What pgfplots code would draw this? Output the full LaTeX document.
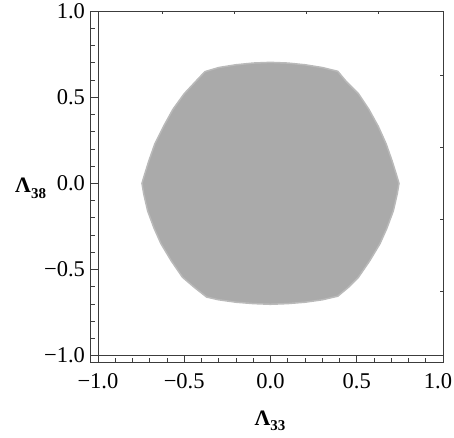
\documentclass[border=0pt]{standalone}
\usepackage{fontspec}
\setmainfont{Liberation Serif}
\usepackage{pgfplots}
\pgfplotsset{compat=1.18}
\definecolor{regionfill}{RGB}{170,170,170}
\definecolor{regionedge}{RGB}{186,186,186}
\definecolor{axisgray}{RGB}{60,60,60}

\newcommand{\lab}[1]{{\fontsize{22}{22}\selectfont\bfseries Λ\raisebox{-0.27em}{\fontsize{15}{15}\selectfont #1}}}

\begin{document}
\begin{tikzpicture}
  \useasboundingbox (-90.7pt,-74.3pt) rectangle (363.3pt,362.7pt);
  \begin{axis}[
      name=main,
      at={(0pt,0pt)}, anchor=south west,
      scale only axis,
      width=352.3pt, height=351.7pt,
      xmin=-1.042, xmax=1, ymin=-1.041, ymax=1,
      xtick={-1,-0.5,0,0.5,1},
      xticklabels={−1.0,−0.5,0.0,0.5,1.0\rule{10pt}{0pt}},
      ytick={-1,-0.5,0,0.5,1},
      yticklabels={−1.0,−0.5,0.0,0.5,1.0},
      minor x tick num=4, minor y tick num=4,
      xtick pos=bottom, ytick pos=left,
      tick align=inside,
      major tick length=7.3pt, minor tick length=4.3pt,
      tick style={axisgray, line width=0.7pt},
      axis line style={axisgray, line width=0.7pt},
      tick label style={font=\fontsize{22.5}{22.5}\selectfont},
      xticklabel style={yshift=-6.8pt},
      yticklabel style={xshift=-2.2pt},
      xlabel={\lab{33}},
      xlabel style={at={(axis description cs:0.509,0)}, anchor=base, yshift=-62.3pt},
      ylabel={\lab{38}},
      ylabel style={rotate=-90, at={(axis description cs:0,0.51)}, anchor=base west, xshift=-79pt, yshift=-9pt},
      clip=false,
    ]
    % allowed region (boundary)
    \addplot[fill=regionfill, draw=regionedge, line width=1.5pt] coordinates {
      (0,0.702) (0.1,0.698) (0.2,0.688) (0.3,0.672) (0.39,0.650)
      (0.44,0.59) (0.51,0.52) (0.57,0.43) (0.625,0.33) (0.67,0.23)
      (0.705,0.13) (0.73,0.05) (0.745,0.0)
      (0.735,-0.06) (0.712,-0.16) (0.675,-0.26) (0.635,-0.35) (0.575,-0.45)
      (0.51,-0.545) (0.45,-0.605) (0.39,-0.655)
      (0.3,-0.676) (0.2,-0.69) (0.1,-0.698) (0,-0.702)
      (-0.1,-0.698) (-0.2,-0.69) (-0.3,-0.676) (-0.37,-0.660)
      (-0.44,-0.605) (-0.51,-0.545) (-0.575,-0.45) (-0.635,-0.35) (-0.675,-0.26)
      (-0.712,-0.16) (-0.735,-0.06) (-0.745,0.0)
      (-0.73,0.05) (-0.705,0.13) (-0.67,0.23) (-0.62,0.33) (-0.565,0.43)
      (-0.50,0.52) (-0.43,0.595) (-0.38,0.648)
      (-0.3,0.672) (-0.2,0.688) (-0.1,0.698) (0,0.702)
    } -- cycle;
    \draw[axisgray, line width=0.7pt] (axis cs:-1,-1.041) -- (axis cs:-1,1);
    \draw[axisgray, line width=0.7pt] (axis cs:-1.042,-1) -- (axis cs:1,-1);
  \end{axis}
  \begin{axis}[
      at={(0pt,0pt)}, anchor=south west,
      scale only axis,
      width=352.3pt, height=351.7pt,
      xmin=-1.042, xmax=1, ymin=-1.041, ymax=1,
      xtick={-0.625,-0.208,0.208,0.625},
      ytick={-0.625,-0.208,0.208,0.625},
      xticklabels={}, yticklabels={},
      xtick pos=top, ytick pos=right,
      tick align=inside,
      major tick length=2.7pt,
      tick style={axisgray, line width=0.6pt},
      axis line style={draw=none},
    ]
  \end{axis}
\end{tikzpicture}
\end{document}
